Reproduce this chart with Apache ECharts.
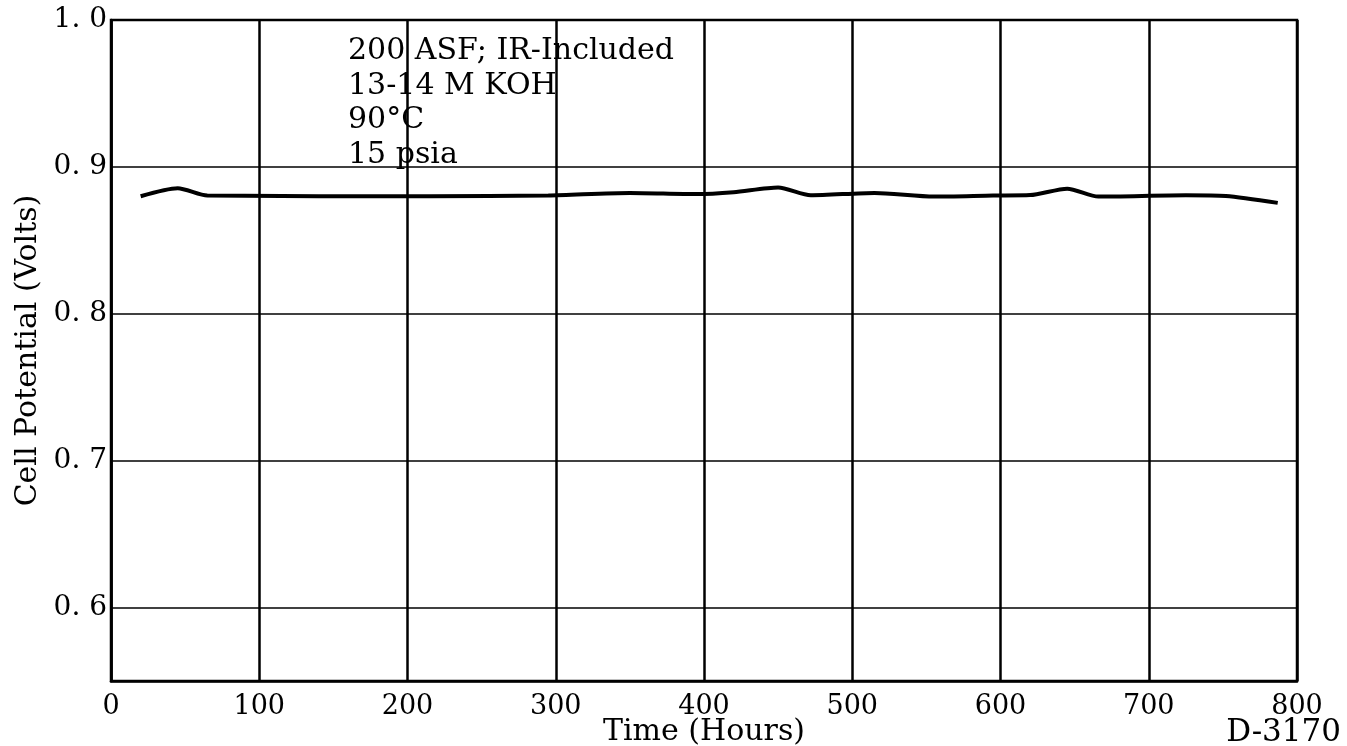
<!DOCTYPE html>
<html>
<head>
<meta charset="utf-8">
<script src="https://cdn.jsdelivr.net/npm/echarts@6/dist/echarts.min.js"></script>
<style>
html,body{margin:0;padding:0;background:#fff;}
#chart{width:1347px;height:746px;}
</style>
</head>
<body>
<div id="chart"></div>
<script>
// Data
var timeHours = [20, 45, 65, 215, 295, 350, 395, 420, 450, 472, 515, 555, 595, 620, 645, 666, 725, 752, 787];
var cellVolts = [0.880, 0.8855, 0.8805, 0.8800, 0.8805, 0.8823, 0.8815, 0.8828, 0.8860, 0.8807, 0.8823, 0.8798, 0.8805, 0.8808, 0.8852, 0.8798, 0.8807, 0.8802, 0.8755];
var xTicks = [0, 100, 200, 300, 400, 500, 600, 700, 800];
var yTicks = [0.6, 0.7, 0.8, 0.9, 1.0];
var noteLines = ['200 ASF; IR-Included', '13-14 M KOH', '90\u00B0C', '15 psia'];
var xTitle = 'Time (Hours)';
var yTitle = 'Cell Potential (Volts)';
var figId = 'D-3170';

var FONT = '"DejaVu Serif", "Liberation Serif", serif';
var series = timeHours.map(function (t, i) { return [t, cellVolts[i]]; });

var chart = echarts.init(document.getElementById('chart'));
chart.setOption({
  backgroundColor: '#fff',
  animation: false,
  grid: { left: 111, right: 50, top: 20, bottom: 65, containLabel: false, outerBoundsMode: 'none',
    show: true, borderColor: '#000', borderWidth: 2.5, backgroundColor: 'transparent' },
  xAxis: {
    type: 'value', min: 0, max: 800, interval: 100,
    name: xTitle, nameLocation: 'middle', nameGap: 36, nameMoveOverlap: false,
    nameTextStyle: { fontFamily: FONT, fontSize: 30, color: '#000' },
    axisLine: { show: true, lineStyle: { color: '#000', width: 2.5 } },
    axisTick: { show: false },
    axisLabel: { fontFamily: FONT, fontSize: 27, color: '#000', margin: 12,
      formatter: function (v) { return xTicks.indexOf(v) >= 0 ? String(v) : ''; } },
    splitLine: { show: true, lineStyle: { color: '#000', width: 2.5 } }
  },
  yAxis: {
    type: 'value', min: 0.55, max: 1.0,
    name: yTitle, nameLocation: 'middle', nameGap: 68, nameRotate: 90, nameMoveOverlap: false,
    nameTextStyle: { fontFamily: FONT, fontSize: 30, color: '#000' },
    axisLine: { show: true, lineStyle: { color: '#000', width: 2.5 } },
    axisTick: { show: false },
    axisLabel: { fontFamily: FONT, fontSize: 28, color: '#000', margin: 4, showMinLabel: false,
      formatter: function (v) {
        for (var i = 0; i < yTicks.length; i++) {
          if (Math.abs(v - yTicks[i]) < 1e-6) return yTicks[i].toFixed(1).replace('.', '. ');
        }
        return '';
      } },
    splitLine: { show: true, lineStyle: { color: '#000', width: 1.5 } }
  },
  graphic: [
    { type: 'text', left: 348, top: 34,
      style: { text: noteLines.join('\n'), fontFamily: FONT, fontSize: 30, lineHeight: 34.5, fill: '#000' } },
    { type: 'text', right: 6, bottom: -2,
      style: { text: figId, fontFamily: FONT, fontSize: 31, fill: '#000' } }
  ],
  series: [{
    type: 'line', data: series, symbol: 'none', smooth: 0.25,
    lineStyle: { color: '#000', width: 4 }
  }]
});
</script>
</body>
</html>
